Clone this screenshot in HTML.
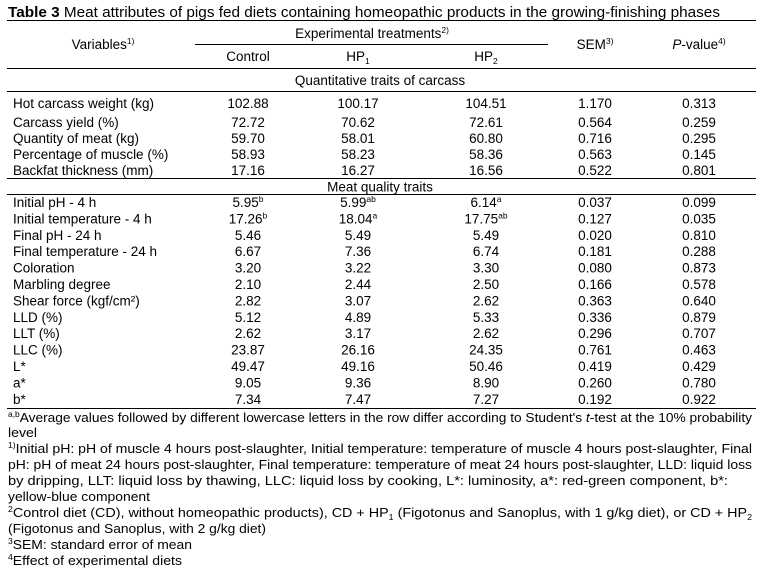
<!DOCTYPE html>
<html><head><meta charset="utf-8"><style>
html,body{margin:0;padding:0;background:#fff;}
svg{display:block;font-family:"Liberation Sans",Arial,sans-serif;}
text{fill:#000;}
</style></head><body>
<svg id="tbl" width="773" height="571" viewBox="0 0 773 571" xmlns="http://www.w3.org/2000/svg">
<text x="8" y="17" font-size="15" textLength="712" lengthAdjust="spacingAndGlyphs"><tspan font-weight="bold">Table 3</tspan> Meat attributes of pigs fed diets containing homeopathic products in the growing-finishing phases</text>
<g stroke="#000" stroke-width="1">
<line x1="7" x2="756" y1="20.5" y2="20.5"/>
<line x1="195" x2="548" y1="44.5" y2="44.5"/>
<line x1="7" x2="756" y1="68.5" y2="68.5"/>
<line x1="7" x2="756" y1="91.5" y2="91.5"/>
<line x1="7" x2="756" y1="178.5" y2="178.5"/>
<line x1="7" x2="756" y1="194.5" y2="194.5"/>
<line x1="7" x2="756" y1="408.5" y2="408.5"/>
</g>
<g font-size="13.5" text-anchor="middle">
<text x="103" y="49">Variables<tspan font-size="8.5" dy="-5">1)</tspan></text>
<text x="372" y="38">Experimental treatments<tspan font-size="8.5" dy="-5">2)</tspan></text>
<text x="248" y="61">Control</text>
<text x="358" y="61">HP<tspan font-size="8.5" dy="3">1</tspan></text>
<text x="486" y="61">HP<tspan font-size="8.5" dy="3">2</tspan></text>
<text x="595" y="49">SEM<tspan font-size="8.5" dy="-5">3)</tspan></text>
<text x="699" y="49"><tspan font-style="italic">P</tspan>-value<tspan font-size="8.5" dy="-5">4)</tspan></text>
<text x="380" y="85">Quantitative traits of carcass</text>
<text x="380" y="191.5">Meat quality traits</text>
</g>
<g id="body" font-size="13.5"></g>
<g font-size="13">
<text x="8" y="422" textLength="744" lengthAdjust="spacingAndGlyphs"><tspan font-size="8" dy="-5">a,b</tspan><tspan dy="5">Average values followed by different lowercase letters in the row differ according to Student's </tspan><tspan font-style="italic">t</tspan>-test at the 10% probability</text>
<text x="8" y="437" textLength="29" lengthAdjust="spacingAndGlyphs">level</text>
<text x="8" y="453" textLength="744" lengthAdjust="spacingAndGlyphs"><tspan font-size="8" dy="-5">1)</tspan><tspan dy="5">Initial pH: pH of muscle 4 hours post-slaughter, Initial temperature: temperature of muscle 4 hours post-slaughter, Final</tspan></text>
<text x="8" y="469" textLength="744" lengthAdjust="spacingAndGlyphs">pH: pH of meat 24 hours post-slaughter, Final temperature: temperature of meat 24 hours post-slaughter, LLD: liquid loss</text>
<text x="8" y="485" textLength="720" lengthAdjust="spacingAndGlyphs">by dripping, LLT: liquid loss by thawing, LLC: liquid loss by cooking, L*: luminosity, a*: red-green component, b*:</text>
<text x="8" y="501" textLength="142" lengthAdjust="spacingAndGlyphs">yellow-blue component</text>
<text x="8" y="517" textLength="744" lengthAdjust="spacingAndGlyphs"><tspan font-size="8" dy="-5">2</tspan><tspan dy="5">Control diet (CD), without homeopathic products), CD + HP</tspan><tspan font-size="8" dy="3">1</tspan><tspan dy="-3"> (Figotonus and Sanoplus, with 1 g/kg diet), or CD + HP</tspan><tspan font-size="8" dy="3">2</tspan></text>
<text x="8" y="533" textLength="258" lengthAdjust="spacingAndGlyphs">(Figotonus and Sanoplus, with 2 g/kg diet)</text>
<text x="8" y="549" textLength="184" lengthAdjust="spacingAndGlyphs"><tspan font-size="8" dy="-5">3</tspan><tspan dy="5">SEM: standard error of mean</tspan></text>
<text x="8" y="565" textLength="174" lengthAdjust="spacingAndGlyphs"><tspan font-size="8" dy="-5">4</tspan><tspan dy="5">Effect of experimental diets</tspan></text>
</g>
</svg>
<script>
const labels1 = ["Hot carcass weight (kg)","Carcass yield (%)","Quantity of meat (kg)","Percentage of muscle (%)","Backfat thickness (mm)"];
const control1 = ["102.88","72.72","59.70","58.93","17.16"];
const hp1_1 = ["100.17","70.62","58.01","58.23","16.27"];
const hp2_1 = ["104.51","72.61","60.80","58.36","16.56"];
const sem1 = ["1.170","0.564","0.716","0.563","0.522"];
const p1 = ["0.313","0.259","0.295","0.145","0.801"];
const labels2 = ["Initial pH - 4 h","Initial temperature - 4 h","Final pH - 24 h","Final temperature - 24 h","Coloration","Marbling degree","Shear force (kgf/cm²)","LLD (%)","LLT (%)","LLC (%)","L*","a*","b*"];
const control2 = ["5.95|b","17.26|b","5.46","6.67","3.20","2.10","2.82","5.12","2.62","23.87","49.47","9.05","7.34"];
const hp1_2 = ["5.99|ab","18.04|a","5.49","7.36","3.22","2.44","3.07","4.89","3.17","26.16","49.16","9.36","7.47"];
const hp2_2 = ["6.14|a","17.75|ab","5.49","6.74","3.30","2.50","2.62","5.33","2.62","24.35","50.46","8.90","7.27"];
const sem2 = ["0.037","0.127","0.020","0.181","0.080","0.166","0.363","0.336","0.296","0.761","0.419","0.260","0.192"];
const p2 = ["0.099","0.035","0.810","0.288","0.873","0.578","0.640","0.879","0.707","0.463","0.429","0.780","0.922"];

const NS = "http://www.w3.org/2000/svg";
const body = document.getElementById('body');
const colX = [248, 358, 486, 595, 699];
function cell(x, y, val, anchor) {
  const t = document.createElementNS(NS, 'text');
  
  
  t.setAttribute('x', x); t.setAttribute('y', y);
  t.setAttribute('text-anchor', anchor);
  const parts = String(val).split('|');
  t.appendChild(document.createTextNode(parts[0]));
  if (parts[1]) {
    const s = document.createElementNS(NS, 'tspan');
    s.setAttribute('font-size', '8.5'); s.setAttribute('dy', '-5');
    s.textContent = parts[1];
    t.appendChild(s);
  }
  body.appendChild(t);
}
function rows(labels, cols, ys) {
  labels.forEach((lab, i) => {
    const y = ys[i] + 5;
    cell(13, y, lab, 'start');
    cols.forEach((c, j) => cell(colX[j], y, c[i], 'middle'));
  });
}
const ys1 = [103, 122, 138, 154, 170];
rows(labels1, [control1, hp1_1, hp2_1, sem1, p1], ys1);
const ys2 = labels2.map((_, i) => 202 + i * 16.4);
rows(labels2, [control2, hp1_2, hp2_2, sem2, p2], ys2);
</script>
</body></html>
